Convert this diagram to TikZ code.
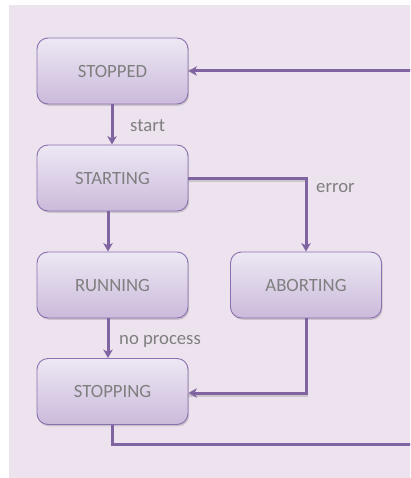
\documentclass[tikz,border=0pt]{standalone}
\usepackage{fontspec}
\setmainfont{Carlito}
\usetikzlibrary{arrows.meta,shadows,calc}

\definecolor{panel}{HTML}{EDE3EE}
\definecolor{boxtop}{HTML}{EDE8F4}
\definecolor{boxbot}{HTML}{CBBADB}
\definecolor{boxline}{HTML}{8A70AE}
\definecolor{flow}{HTML}{8064A2}
\definecolor{txt}{HTML}{7F7F7F}

\tikzset{
  state/.style={draw=boxline, line width=0.9pt, rounded corners=11pt,
    top color=boxtop, bottom color=boxbot,
    minimum width=151pt, minimum height=66pt, inner sep=0pt,
    text=txt, font=\fontsize{18.7}{22}\selectfont,
    drop shadow={shadow xshift=1.2pt, shadow yshift=-1.8pt, opacity=0.25, fill=black!60}},
  flowline/.style={draw=flow, line width=3pt,
    -{Stealth[length=8.5pt,width=9.5pt,inset=2.5pt]}},
  flowshadow/.style={draw=black!45, line width=3pt, opacity=0.35},
  edgelabel/.style={text=txt, font=\fontsize{18.7}{22}\selectfont, inner sep=0pt}
}

\begin{document}
\begin{tikzpicture}[x=1pt, y=-1pt]
  \useasboundingbox (0,0) rectangle (410,478);
  \clip (0,0) rectangle (410,478);
  \fill[white] (0,0) rectangle (410,478);
  \fill[panel] (8.5,5) rectangle (412,477.5);

  % states
  \node[state] (stopped)  at (112.5,71)  {STOPPED};
  \node[state] (starting) at (112.5,178) {STARTING};
  \node[state] (running)  at (112.5,285) {RUNNING};
  \node[state] (aborting) at (306,285)   {ABORTING};
  \node[state] (stopping) at (112.5,391.5) {STOPPING};

  % routing points of the return path
  \coordinate (ret1) at (112,444);
  \coordinate (ret2) at (418,444);
  \coordinate (ret3) at (418,71);

  % soft shadows under the connectors
  \begin{scope}[yshift=-2pt]
    \draw[flowshadow] (starting.east |- 0,179) -- (306,179);
    \draw[flowshadow] (aborting.south) |- (stopping.east |- 0,393);
    \draw[flowshadow] (stopping.south -| ret1) -- (ret1) -- (ret2);
    \draw[flowshadow] (ret3) -- (stopped.east);
  \end{scope}

  % transitions
  \draw[flowline] (stopped.south -| ret1) -- (starting.north -| ret1);
  \draw[flowline] ([xshift=-4.5pt]starting.south) -- ([xshift=-4.5pt]running.north);
  \draw[flowline] ([xshift=-4.5pt]running.south) -- ([xshift=-4.5pt]stopping.north);
  \draw[flowline] (starting.east |- 0,179) -| (aborting.north);
  \draw[flowline] (aborting.south) |- (stopping.east |- 0,393);
  \draw[flowline] (stopping.south -| ret1) -- (ret1) -- (ret2) -- (ret3) -- (stopped.east);

  % transition labels
  \node[edgelabel, anchor=base west] (lstart) at (130,132) {start};
  \node[edgelabel, anchor=base west] (lerror) at (316,193) {error};
  \node[edgelabel, anchor=base west] (lnoproc) at (119,344) {no process};
\end{tikzpicture}
\end{document}
